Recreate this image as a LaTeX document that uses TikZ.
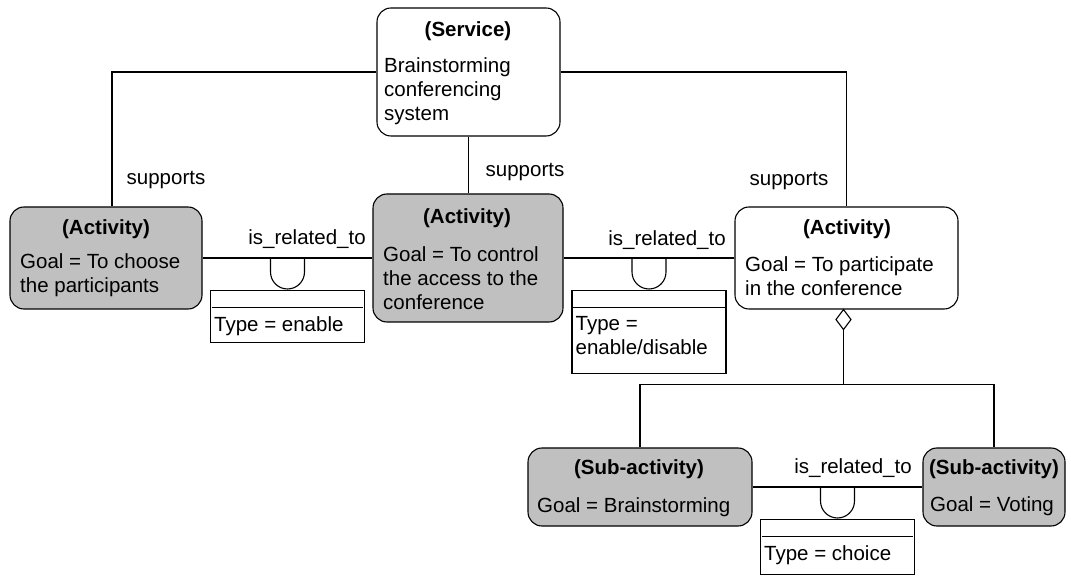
\documentclass[tikz,border=0pt]{standalone}
\usepackage{fontspec}
\setmainfont{Liberation Sans}
\usepackage{tikz}
\usetikzlibrary{calc}
\definecolor{actgray}{RGB}{192,192,192}
\newcommand{\diagfont}{\fontsize{20.5}{24}\selectfont}
\tikzset{
  link/.style={line width=1.1pt},
  actbox/.style={draw, line width=1.1pt, rounded corners=14pt, fill=actgray, inner sep=0pt},
  svcbox/.style={actbox, fill=white},
  attrbox/.style={draw, line width=1.1pt, minimum width=154pt, inner sep=0pt},
  title/.style={font=\diagfont\bfseries, inner sep=0pt},
  body/.style={font=\diagfont, align=left, inner sep=0pt},
  lbl/.style={font=\diagfont, inner sep=0pt}
}
% U mark hanging from a link
\newcommand{\relmark}[1]{\draw[link] ($(#1)+(-17,0)$) -- ++(0,-14) arc[start angle=180,end angle=360,radius=17] -- ++(0,14);}
% attribute box below a U mark
\newcommand{\attrbox}[4]{
  \node[attrbox, minimum height=#3, anchor=north] (#2) at ($(#1)+(0,-32)$) {};
  \draw[link] ($(#2.north west)+(2,-17.5)$) -- ($(#2.north east)+(-2,-17.5)$);
  \node[body, anchor=north west] (#2text) at ($(#2.north west)+(4,-26)$) {#4};
}

\begin{document}
\begin{tikzpicture}[x=1pt,y=1pt]
\useasboundingbox (0,0) rectangle (1071,576);
% boxes
\node[svcbox, minimum width=183pt, minimum height=128pt] (serv) at (468.5,504) {};
\node[actbox, minimum width=192pt, minimum height=102pt] (act1) at (106,318) {};
\node[actbox, minimum width=190pt, minimum height=128pt] (act2) at (468,318) {};
\node[svcbox, minimum width=223pt, minimum height=102pt] (act3) at (846.5,318) {};
\node[actbox, minimum width=224pt, minimum height=78pt] (sub1) at (640,89) {};
\node[actbox, minimum width=142pt, minimum height=78pt] (sub2) at (994,89) {};
% box texts
\node[title] (servtitle) at (468,545) {(Service)};
\node[body, anchor=west] (servbody) at (384,485) {Brainstorming\\conferencing\\system};
\node[title] (act1title) at (106,347) {(Activity)};
\node[body, anchor=west] (act1body) at (20,301) {Goal = To choose\\the participants};
\node[title] (act2title) at (467,358) {(Activity)};
\node[body, anchor=west] (act2body) at (383,298) {Goal = To control\\the access to the\\conference};
\node[title] (act3title) at (847,347) {(Activity)};
\node[body, anchor=west] (act3body) at (745,300) {Goal = To participate\\in the conference};
\node[title] (sub1title) at (639,107) {(Sub-activity)};
\node[body, anchor=west] (sub1body) at (537,69) {Goal = Brainstorming};
\node[title] (sub2title) at (994,107) {(Sub-activity)};
\node[body, anchor=west] (sub2body) at (930,70) {Goal = Voting};
% supports links
\draw[link] (serv.west) -| ([xshift=6pt]act1.north);
\draw[link] (serv.south) -- (serv.south |- act2.north);
\draw[link] (serv.east) -| (act3.north);
\node[lbl] (sup1) at (166,396) {supports};
\node[lbl] (sup2) at (525,404) {supports};
\node[lbl] (sup3) at (789,395) {supports};
% is_related_to links
\draw[link] (act1.east) -- (act2.west);
\draw[link] (act2.east) -- (act3.west);
\draw[link] (sub1.east) -- (sub2.west);
\node[lbl] (rel1) at (307,337) {is\_related\_to};
\node[lbl] (rel2) at (667,336) {is\_related\_to};
\node[lbl] (rel3) at (853,108) {is\_related\_to};
\coordinate (u1) at ($(act1.east)!0.5!(act2.west)$);
\coordinate (u2) at ($(act2.east)!0.5!(act3.west)$);
\coordinate (u3) at ($(sub1.east)!0.5!(sub2.west)$);
\relmark{u1}
\relmark{u2}
\relmark{u3}
\attrbox{u1}{qone}{52pt}{Type = enable}
\attrbox{u2}{qtwo}{83pt}{Type =\\enable/disable}
\attrbox{u3}{qthree}{55pt}{Type = choice}
% aggregation
\coordinate (agg) at ([xshift=-3pt]act3.south);
\draw[link, fill=white] (agg) -- ++(7.5,-10) -- ++(-7.5,-10) -- ++(-7.5,10) -- cycle;
\coordinate (fork) at ($(agg)+(0,-75)$);
\draw[link] ($(agg)+(0,-20)$) -- (fork);
\draw[link] (sub1.north) |- (fork) -| (sub2.north);
\end{tikzpicture}
\end{document}
